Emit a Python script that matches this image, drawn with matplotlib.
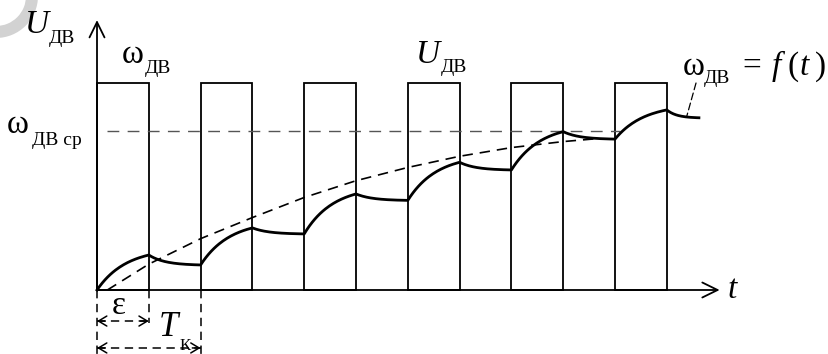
import numpy as np
import matplotlib
matplotlib.use('Agg')
import matplotlib.pyplot as plt
from matplotlib.patches import FancyArrowPatch, Wedge
from matplotlib.transforms import IdentityTransform

plt.rcParams['font.family'] = ['Liberation Serif', 'DejaVu Serif']
plt.rcParams['lines.scale_dashes'] = False

# ---------------- data (time in units of the period T_K) ----------------
pulse_starts = [0, 1, 2, 3, 4, 5]
pulse_width = 0.5          # epsilon
pulse_level = 1.0          # U_DV

switch_t = [0, 0.5, 1, 1.5, 2, 2.5, 3, 3.5, 4, 4.5, 5, 5.5, 5.81]
omega_sw = [0, 0.169, 0.121, 0.300, 0.271, 0.464, 0.433, 0.617, 0.580,
            0.765, 0.729, 0.870, 0.832]

avg_level = 0.768
avg_span = [0.1, 5.05]

trend_t = [0.1, 0.5, 1.0, 1.5, 2.0, 2.5, 3.0, 3.5, 4.0, 4.5, 4.8]
trend_v = [0.0, 0.125, 0.248, 0.350, 0.447, 0.528, 0.592, 0.646, 0.688, 0.717, 0.730]

t_axis_end = 6.01
u_axis_end = 1.304

# ---------------- figure ----------------
fig = plt.figure(figsize=(8.29, 3.54), dpi=100)
ax = fig.add_axes([0, 0, 1, 1])
ax.set_xlim(-0.9363, 7.0656)
ax.set_ylim(-0.3092, 1.4010)
ax.axis('off')

# watermark ring (behind everything)
ring = Wedge((-4, 358), 42, 0, 360, width=12, transform=IdentityTransform(),
             facecolor='#d2d2d2', edgecolor='none', zorder=0)
ax.add_artist(ring)

# pulses
ax.bar(pulse_starts, pulse_level, width=pulse_width, align='edge', fill=False,
       edgecolor='black', linewidth=1.3, zorder=2)

# axes arrows
ax.add_patch(FancyArrowPatch((0, 0), (0, u_axis_end), arrowstyle='->,head_length=0.55,head_width=0.27',
                             mutation_scale=20, lw=1.3, color='black', shrinkA=0, shrinkB=0, zorder=3))
ax.add_patch(FancyArrowPatch((0, 0), (t_axis_end, 0), arrowstyle='->,head_length=0.55,head_width=0.27',
                             mutation_scale=20, lw=1.3, color='black', shrinkA=0, shrinkB=0, zorder=3))

# speed curve (piecewise exponential between switching instants)
k_on, k_off = 1.8, 3.2
xs, ys = [], []
for i in range(len(switch_t) - 1):
    t0, t1 = switch_t[i], switch_t[i + 1]
    a, b = omega_sw[i], omega_sw[i + 1]
    k = k_on if b > a else k_off
    s = np.linspace(0, 1, 40)
    f = (1 - np.exp(-k * s)) / (1 - np.exp(-k))
    xs.append(t0 + (t1 - t0) * s)
    ys.append(a + (b - a) * f)
xs = np.concatenate(xs)
ys = np.concatenate(ys)
ax.plot(xs, ys, color='black', lw=2.0, zorder=4, solid_joinstyle='round')

# average level and trend
ax.plot(avg_span, [avg_level, avg_level], color='#555555', lw=1.0, dashes=(8.5, 6), zorder=3)
ax.plot(trend_t, trend_v, color='black', lw=1.2, dashes=(7.5, 5), zorder=3)

# dimension lines below the time axis
dim_x = [0, pulse_width, 1.0]
dim_bottom = [-0.3092, -0.16, -0.3092]
for x, yb in zip(dim_x, dim_bottom):
    ax.plot([x, x], [0, yb], color='black', lw=1.1, dashes=(6, 4))

def dim_arrow(x0, x1, y):
    ax.plot([x0, x1], [y, y], color='black', lw=1.1, dashes=(6, 4))
    for a, b in ((x0 + 0.08, x0), (x1 - 0.08, x1)):
        ax.add_patch(FancyArrowPatch((a, y), (b, y), arrowstyle='->,head_length=0.5,head_width=0.3',
                                     mutation_scale=12, lw=1.1, color='black', shrinkA=0, shrinkB=0))

dim_arrow(0, pulse_width, -0.150)
dim_arrow(0, 1.0, -0.280)

# ---------------- labels ----------------
MS, SS = 24, 14
def label(x, y, main, sx, sy, sub, italic=False, size=MS, subsize=SS):
    ax.text(x, y, main, fontsize=size, style='italic' if italic else 'normal',
            ha='left', va='baseline', zorder=5)
    ax.text(sx, sy, sub, fontsize=subsize, ha='left', va='baseline', zorder=5)

label(-0.70, 1.242, 'U', -0.463, 1.193, 'ДВ', italic=True)
label(0.241, 1.097, 'ω', 0.463, 1.048, 'ДВ')
label(-0.87, 0.758, 'ω', -0.627, 0.700, 'ДВ ср')
label(3.08, 1.097, 'U', 3.32, 1.053, 'ДВ', italic=True)
label(5.656, 1.039, 'ω', 5.86, 1.0, 'ДВ')
ax.text(6.226, 1.039, '=', fontsize=MS, ha='left', va='baseline')
ax.text(6.515, 1.039, 'f', fontsize=MS, style='italic', ha='left', va='baseline')
ax.text(6.665, 1.039, '(', fontsize=MS, ha='left', va='baseline')
ax.text(6.78, 1.039, 't', fontsize=MS, style='italic', ha='left', va='baseline')
ax.text(6.93, 1.039, ')', fontsize=MS, ha='left', va='baseline')

# leader from label to curve
end_i = np.searchsorted(xs, 5.69)
ax.annotate('', xy=(xs[end_i], ys[end_i]), xytext=(5.782, 1.0),
            arrowprops=dict(arrowstyle='-', lw=0.9, color='black', linestyle=(0, (5, 2.5)),
                            shrinkA=0, shrinkB=0))

ax.text(6.09, -0.039, 't', fontsize=MS, style='italic', ha='left', va='baseline')
ax.text(0.14, -0.118, 'ε', fontsize=24, ha='left', va='baseline')
label(0.60, -0.222, 'T', 0.80, -0.288, 'К', italic=True, size=25, subsize=12)

fig.savefig('out.png', dpi=100)
